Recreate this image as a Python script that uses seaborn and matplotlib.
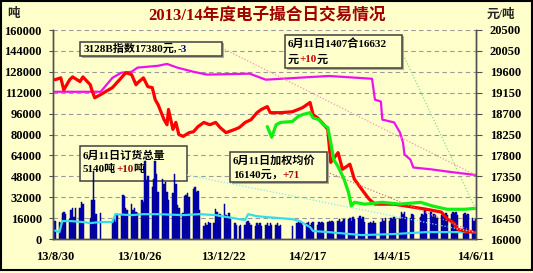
import numpy as np
import pandas as pd
import matplotlib
matplotlib.use("Agg")
import matplotlib.pyplot as plt
import seaborn as sns
from matplotlib.patches import Rectangle
from matplotlib.lines import Line2D

W, H, DPI = 533, 273, 100

# ---------------- data ----------------
title = "2013/14年度电子撮合日交易情况"
x_tick_labels = ["13/8/30", "13/10/26", "13/12/22", "14/2/17", "14/4/15", "14/6/11"]
x_tick_dates = ["2013-08-30", "2013-10-26", "2013-12-22", "2014-02-17", "2014-04-15", "2014-06-11"]
left_ticks = [0, 16000, 32000, 48000, 64000, 80000, 96000, 112000, 128000, 144000, 160000]
right_ticks = [16000, 16450, 16900, 17350, 17800, 18250, 18700, 19150, 19600, 20050, 20500]

holidays = ["2013-09-19", "2013-09-20", "2013-10-01", "2013-10-02", "2013-10-03",
            "2013-10-04", "2013-10-07", "2014-01-01", "2014-01-31", "2014-02-03",
            "2014-02-04", "2014-02-05", "2014-02-06", "2014-04-07", "2014-05-01",
            "2014-05-02", "2014-06-02"]

# daily traded volume (tons), week by week
volume_weeks = [
    [13500],
    [13000, 12500, 20000, 21000, 19500],
    [15000, 22000, 24000, 17000, 23500],
    [24000, 28000, 27000],
    [16000, 30000, 52000, 30000, 19000],
    [20000],
    [14000, 15000, 13000, 19000],
    [18000, 34000, 33000, 24000, 22000],
    [27000, 22000, 24000, 21000, 20000],
    [30000, 28000, 60000, 45000, 48000],
    [40000, 46000, 60000, 50000, 36000],
    [46000, 42000, 44000, 36000, 30000],
    [35000, 50000, 42000, 26000, 24000],
    [20000, 33000, 34000, 35000, 32000],
    [38000, 40000, 36000, 37000, 22000],
    [10000, 12000, 11000, 13000, 12000],
    [12000, 23000, 21000, 17000, 19000],
    [27000, 18000, 16000, 20000, 15000],
    [12000, 11000, 10000, 11000],
    [11000, 13000, 14000, 12000, 11000],
    [10000, 12000, 11000, 12000, 10000],
    [11000, 12000, 10000, 12000, 11000],
    [11000, 12000, 10000, 11000],
    [10000],
    [12000, 13000, 12000, 13000, 11000],
    [12000, 13000, 11000, 12000, 13000],
    [11000, 13000, 12000, 13000, 12000],
    [13000, 14000, 13000, 14000, 13000],
    [14000, 15000, 13000, 14000, 15000],
    [15000, 16000, 14000, 17000, 15000],
    [16000, 17500, 15000, 17000, 13000],
    [12000, 13000, 12000, 14000, 12000],
    [13000, 15000, 14000, 16000],
    [14000, 16000, 15000, 17000, 15000],
    [15000, 20500, 19000, 21000, 17000],
    [16000, 19000, 18000],
    [17000, 19000, 18000, 22000, 19000],
    [21000, 17000, 19000, 18000, 16000],
    [18000, 19000, 17000, 20000, 18000],
    [19000, 21000, 20000, 21000, 18000],
    [19000, 20000, 18000, 19000],
    [16000, 14000, 15000],
]

# total order quantity (tons, left axis)
cyan_dates = ["2013-08-30", "2013-09-02", "2013-09-04", "2013-09-10", "2013-09-18", "2013-09-23",
              "2013-09-30", "2013-10-08", "2013-10-10", "2013-10-21", "2013-10-29", "2013-11-08",
              "2013-11-25", "2013-12-06", "2013-12-17", "2014-01-02", "2014-01-06", "2014-01-08",
              "2014-01-14", "2014-01-20", "2014-02-07", "2014-02-12", "2014-02-19", "2014-02-21",
              "2014-03-03", "2014-03-26", "2014-04-17", "2014-05-09", "2014-06-04", "2014-06-11"]
cyan_vals = [6500, 5300, 13700, 13700, 13000, 12200, 13000, 13000, 19000, 18300, 19000, 19000,
             18300, 19000, 18300, 15200, 14500, 19000, 17500, 16800, 15200, 13700, 9100, 6100,
             5300, 3000, 3800, 5300, 5300, 5140]

# weighted average price (yuan/ton, right axis)
red_dates = ["2013-08-30", "2013-09-03", "2013-09-05", "2013-09-09", "2013-09-11", "2013-09-16",
             "2013-09-18", "2013-09-23", "2013-09-24", "2013-09-26", "2013-09-30", "2013-10-08",
             "2013-10-14", "2013-10-17", "2013-10-21", "2013-10-24", "2013-10-25", "2013-10-29",
             "2013-11-01", "2013-11-04", "2013-11-06", "2013-11-08", "2013-11-12", "2013-11-14",
             "2013-11-15", "2013-11-18", "2013-11-20", "2013-11-22", "2013-11-25", "2013-11-29",
             "2013-12-02", "2013-12-05", "2013-12-09", "2013-12-13", "2013-12-17", "2013-12-20",
             "2013-12-24", "2013-12-30", "2014-01-02", "2014-01-06", "2014-01-10", "2014-01-14",
             "2014-01-17", "2014-01-21", "2014-01-23", "2014-01-28", "2014-01-30", "2014-02-07",
             "2014-02-11", "2014-02-14", "2014-02-19", "2014-02-21", "2014-02-24", "2014-02-27",
             "2014-03-03", "2014-03-05", "2014-03-10", "2014-03-13", "2014-03-18", "2014-03-21",
             "2014-03-26", "2014-03-31", "2014-04-04", "2014-04-17", "2014-04-29", "2014-05-09",
             "2014-05-19", "2014-05-23", "2014-05-27", "2014-05-30", "2014-06-04", "2014-06-09",
             "2014-06-11"]
red_vals = [19430, 19470, 19210, 19430, 19490, 19390, 19490, 19320, 19210, 19040, 19110, 19260,
            19470, 19580, 19540, 19320, 19360, 19470, 19280, 19260, 19000, 18890, 18570, 18460,
            18790, 18360, 18510, 18250, 18210, 18290, 18310, 18420, 18510, 18460, 18510, 18400,
            18290, 18360, 18400, 18510, 18570, 18720, 18790, 18850, 18720, 18720, 18720, 18740,
            18790, 18830, 18940, 18680, 18610, 18510, 18360, 17650, 17860, 17500, 17610, 17290,
            17070, 16860, 16750, 16750, 16690, 16640, 16580, 16430, 16360, 16210, 16170, 16150,
            16140]

# 1407 contract price (right axis)
green_dates = ["2014-01-21", "2014-01-24", "2014-01-27", "2014-01-30", "2014-02-07", "2014-02-11",
               "2014-02-14", "2014-02-19", "2014-02-21", "2014-02-25", "2014-02-28", "2014-03-03",
               "2014-03-05", "2014-03-07", "2014-03-10", "2014-03-14", "2014-03-17", "2014-03-19",
               "2014-03-21", "2014-03-28", "2014-04-09", "2014-04-21", "2014-05-05", "2014-05-13",
               "2014-05-23", "2014-06-04", "2014-06-11"]
green_vals = [18420, 18190, 18460, 18510, 18530, 18640, 18680, 18720, 18610, 18570, 18460, 18400,
              18080, 17710, 17560, 17290, 17010, 16710, 16790, 16750, 16790, 16750, 16790, 16710,
              16640, 16640, 16660]

# 3128B index (right axis)
mag_dates = ["2013-08-30", "2013-09-25", "2013-09-30", "2013-10-08", "2013-10-14", "2013-10-21",
             "2013-10-25", "2013-11-08", "2013-11-14", "2013-11-21", "2013-12-02", "2013-12-11",
             "2014-01-09", "2014-01-20", "2014-02-10", "2014-03-04", "2014-04-02", "2014-04-04",
             "2014-04-08", "2014-04-09", "2014-04-17", "2014-04-21", "2014-04-23", "2014-04-24",
             "2014-04-28", "2014-04-30", "2014-05-12", "2014-05-26", "2014-06-11"]
mag_vals = [19170, 19170, 19170, 19470, 19580, 19600, 19690, 19730, 19770, 19690, 19600, 19540,
            19560, 19430, 19470, 19510, 19450, 19000, 18960, 18570, 18510, 18290, 18080, 17820,
            17710, 17540, 17500, 17440, 17380]

# ---------------- helpers ----------------
start = pd.Timestamp("2013-08-30")


def dnum(dates):
    return np.asarray((pd.to_datetime(dates) - start).days, dtype=float)


trade_days = pd.bdate_range("2013-08-30", "2014-06-11")
trade_days = trade_days[~trade_days.isin(pd.to_datetime(holidays))]
volume = [v for wk in volume_weeks for v in wk]
n = min(len(volume), len(trade_days))
vol_df = pd.DataFrame({"d": dnum(trade_days[:n]).astype(int), "vol": volume[:n]})

sns.set_theme(style="white")
plt.rcParams["font.family"] = ["Liberation Serif", "Noto Sans CJK SC", "DejaVu Sans"]
plt.rcParams["font.weight"] = "bold"
plt.rcParams["axes.unicode_minus"] = False

BG = "#FFFFCC"
fig = plt.figure(figsize=(W / DPI, H / DPI), dpi=DPI, facecolor=BG)


def fx(px):
    return px / W


def fy(py):
    return 1 - py / H


ax = fig.add_axes([fx(53), fy(239), (476 - 53) / W, (239 - 30) / H])
ax.set_facecolor(BG)
ax.set_axisbelow(True)

sns.barplot(data=vol_df, x="d", y="vol", native_scale=True, ax=ax, color="#0000CC",
            width=1.0, errorbar=None, saturation=1, linewidth=0.35, edgecolor="#000070",
            zorder=2)
sns.lineplot(x=dnum(cyan_dates), y=cyan_vals, ax=ax, color="#33DDEE", linewidth=1.6,
             zorder=3, sort=False)

ax.set_ylim(0, 160000)
ax.set_yticks(left_ticks)
ax.set_yticklabels([str(t) for t in left_ticks])
ax.yaxis.grid(True, linestyle=(0, (4, 3)), color="#9A9A9A", linewidth=0.8)
ax.xaxis.grid(False)
ax.set_xlim(-1.3, 285.5)
ax.set_xticks(dnum(x_tick_dates))
ax.set_xticklabels(x_tick_labels)
ax.set_xlabel("")
ax.set_ylabel("")

ax2 = ax.twinx()
sns.lineplot(x=dnum(mag_dates), y=mag_vals, ax=ax2, color="#EE11EE", linewidth=1.6, sort=False)
sns.lineplot(x=dnum(red_dates), y=red_vals, ax=ax2, color="#FF0000", linewidth=2.3, sort=False)
sns.lineplot(x=dnum(green_dates), y=green_vals, ax=ax2, color="#11EE11", linewidth=2.3, sort=False)
ax2.set_ylim(16000, 20500)
ax2.set_yticks(right_ticks)
ax2.set_yticklabels([str(t) for t in right_ticks])
ax2.set_xlim(-1.3, 285.5)
ax2.set_ylabel("")

for a in (ax, ax2):
    a.spines["top"].set_visible(False)
    for s in ("left", "right", "bottom"):
        a.spines[s].set_color("#505050")
        a.spines[s].set_linewidth(1.0)
ax.tick_params(axis="y", direction="out", length=3, width=0.8, color="#505050", pad=5,
               labelsize=9, left=True)
ax.tick_params(axis="x", length=0, pad=9, labelsize=9)
ax2.tick_params(axis="y", direction="out", length=4, width=0.8, color="#505050", pad=6,
                labelsize=9, right=True)
for lab in ax.get_yticklabels() + ax.get_xticklabels() + ax2.get_yticklabels():
    lab.set_fontweight("bold")
    lab.set_color("black")

# titles and axis unit labels
fig.text(fx(267), fy(15), title, ha="center", va="center", fontsize=12,
         fontweight="bold", color="#A00000")
fig.text(fx(13), fy(14), "吨", ha="center", va="center", fontsize=9, fontweight="bold")
fig.text(fx(501), fy(15), "元/吨", ha="center", va="center", fontsize=9, fontweight="bold")

renderer = fig.canvas.get_renderer()


def box(x0, y0, x1, y1, z=5):
    fig.patches.append(Rectangle((fx(x0 + 1.5), fy(y1 + 1.5)), (x1 - x0) / W, (y1 - y0) / H,
                                 transform=fig.transFigure, facecolor="#B0B090",
                                 edgecolor="none", zorder=z - 0.1))
    fig.patches.append(Rectangle((fx(x0), fy(y1)), (x1 - x0) / W, (y1 - y0) / H,
                                 transform=fig.transFigure, facecolor=BG,
                                 edgecolor="#404040", linewidth=1.1, zorder=z))


def rich(xpx, ypx, segs, size=8):
    x = xpx
    for s, c in segs:
        t = fig.text(fx(x), fy(ypx), s, color=c, fontsize=size, fontweight="bold",
                     ha="left", va="center", zorder=6)
        x += t.get_window_extent(renderer).width


def data_px(a, xd, yd):
    X, Y = a.transData.transform((xd, yd))
    return X, H - Y


def leader(x0, y0, a, xd, yd, color):
    x1, y1 = data_px(a, xd, yd)
    fig.lines.append(Line2D([fx(x0), fx(x1)], [fy(y0), fy(y1)], transform=fig.transFigure,
                            color=color, linewidth=0.9, linestyle=(0, (1, 1.5)), zorder=4))


end = dnum(["2014-06-11"])[0]
leader(222, 48, ax2, end, mag_vals[-1], "#E89AB0")
leader(402, 52, ax2, end, green_vals[-1], "#88DD88")
leader(327, 172, ax2, end, red_vals[-1], "#CC7777")
leader(187, 175, ax, end, cyan_vals[-1], "#88E8E8")

# annotation boxes
box(80, 42, 222, 56)
rich(84, 49, [("3128B指数17380元,", "black"), ("-3", "#000080")])

box(285, 35, 402, 68)
rich(288, 44, [("6月11日1407合16632", "black")])
rich(288, 60, [("元", "black"), ("+10", "#CC0000"), ("元", "black")])

box(230, 152, 327, 182)
rich(233, 160, [("6月11日加权均价", "black")])
rich(233, 175, [("16140元，", "black"), ("+71", "#AA0000")])

# order box sits behind the bars
ax.add_patch(Rectangle((fx(80), fy(181)), (187 - 80) / W, (181 - 146) / H,
                       transform=fig.transFigure, facecolor=BG, edgecolor="#404040",
                       linewidth=1.1, zorder=1, clip_on=False))
rich(83, 156, [("6月11日订货总量", "black")])
rich(83, 169, [("5140吨", "black"), ("+10", "#AA0000"), ("吨", "black")])

# outer frame
fig.patches.append(Rectangle((fx(0.8), fy(270)), (531.5 - 0.8) / W, (270 - 0.8) / H,
                             transform=fig.transFigure, facecolor="none",
                             edgecolor="black", linewidth=1.5, zorder=10))

fig.savefig("out.png", dpi=DPI, facecolor=BG)
